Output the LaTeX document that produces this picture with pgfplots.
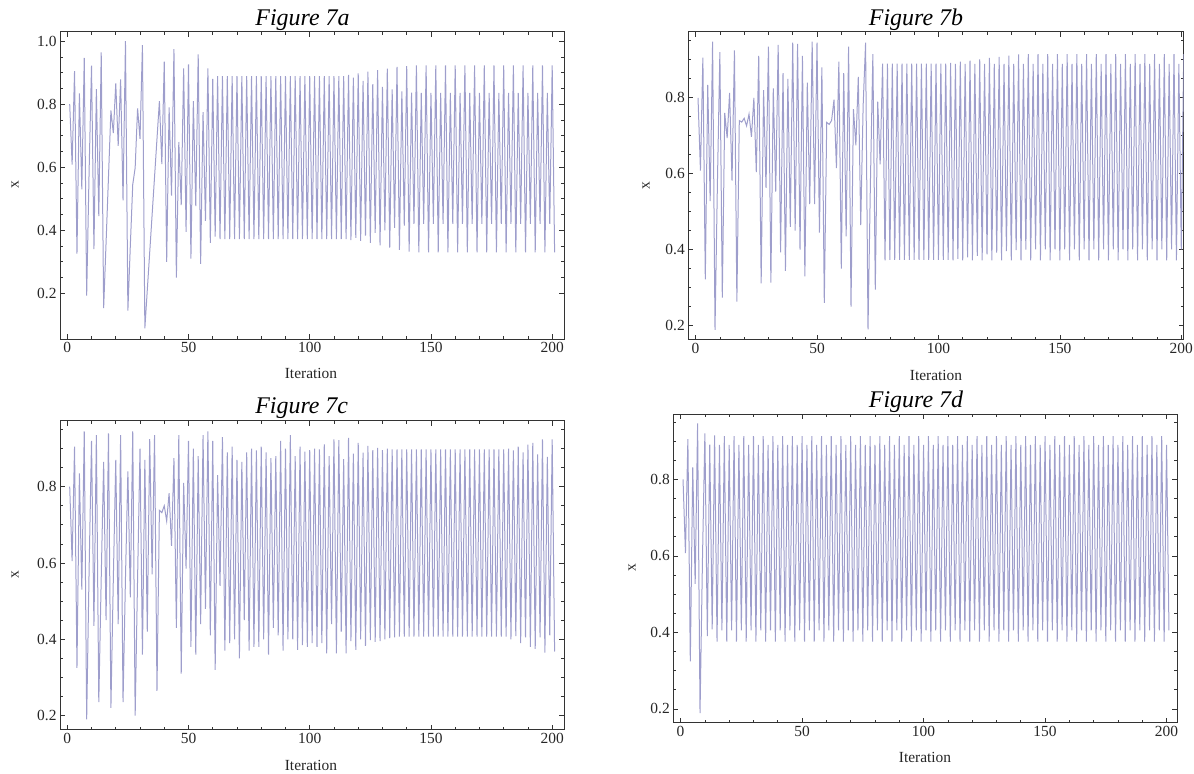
\documentclass[border=0pt]{standalone}
\usepackage{fontspec}
\setmainfont{Liberation Serif}
\usepackage{pgfplots}
\usepackage{pgfplotstable}
\pgfplotsset{compat=1.18}
\definecolor{series}{rgb}{0.24,0.24,0.6}
\definecolor{frame}{gray}{0.2}

% Figure 7a
\pgfplotstableread[row sep=\\]{
i v\\
1 0.800\\ 2 0.608\\ 3 0.905\\ 4 0.326\\ 5 0.834\\ 6 0.530\\ 7 0.947\\ 8 0.193\\ 9 0.586\\ 10 0.922\\
11 0.340\\ 12 0.848\\ 13 0.445\\ 14 0.964\\ 15 0.153\\ 16 0.360\\ 17 0.570\\ 18 0.780\\ 19 0.708\\ 20 0.866\\
21 0.668\\ 22 0.879\\ 23 0.495\\ 24 1.000\\ 25 0.145\\ 26 0.350\\ 27 0.545\\ 28 0.598\\ 29 0.787\\ 30 0.690\\
31 0.987\\ 32 0.089\\ 33 0.210\\ 34 0.330\\ 35 0.450\\ 36 0.570\\ 37 0.690\\ 38 0.810\\ 39 0.610\\ 40 0.935\\
41 0.300\\ 42 0.790\\ 43 0.510\\ 44 0.975\\ 45 0.250\\ 46 0.680\\ 47 0.480\\ 48 0.914\\ 49 0.395\\ 50 0.926\\
51 0.310\\ 52 0.810\\ 53 0.477\\ 54 0.958\\ 55 0.293\\ 56 0.775\\ 57 0.430\\ 58 0.914\\ 59 0.360\\ 60 0.880\\
61 0.380\\ 62 0.889\\ 63 0.372\\ 64 0.889\\ 65 0.372\\ 66 0.889\\ 67 0.372\\ 68 0.889\\ 69 0.372\\ 70 0.889\\
71 0.372\\ 72 0.889\\ 73 0.372\\ 74 0.889\\ 75 0.372\\ 76 0.889\\ 77 0.372\\ 78 0.889\\ 79 0.372\\ 80 0.889\\
81 0.372\\ 82 0.889\\ 83 0.372\\ 84 0.889\\ 85 0.372\\ 86 0.889\\ 87 0.372\\ 88 0.889\\ 89 0.372\\ 90 0.889\\
91 0.372\\ 92 0.889\\ 93 0.372\\ 94 0.889\\ 95 0.372\\ 96 0.889\\ 97 0.372\\ 98 0.889\\ 99 0.372\\ 100 0.889\\
101 0.372\\ 102 0.889\\ 103 0.372\\ 104 0.889\\ 105 0.372\\ 106 0.889\\ 107 0.372\\ 108 0.889\\ 109 0.372\\ 110 0.889\\
111 0.372\\ 112 0.889\\ 113 0.372\\ 114 0.889\\ 115 0.372\\ 116 0.893\\ 117 0.369\\ 118 0.884\\ 119 0.376\\ 120 0.898\\
121 0.366\\ 122 0.874\\ 123 0.383\\ 124 0.903\\ 125 0.360\\ 126 0.864\\ 127 0.392\\ 128 0.908\\ 129 0.352\\ 130 0.855\\
131 0.400\\ 132 0.913\\ 133 0.345\\ 134 0.847\\ 135 0.408\\ 136 0.918\\ 137 0.338\\ 138 0.841\\ 139 0.415\\ 140 0.921\\
141 0.332\\ 142 0.837\\ 143 0.420\\ 144 0.923\\ 145 0.330\\ 146 0.836\\ 147 0.420\\ 148 0.923\\ 149 0.330\\ 150 0.836\\
151 0.420\\ 152 0.923\\ 153 0.330\\ 154 0.836\\ 155 0.420\\ 156 0.923\\ 157 0.330\\ 158 0.836\\ 159 0.420\\ 160 0.923\\
161 0.330\\ 162 0.836\\ 163 0.420\\ 164 0.923\\ 165 0.330\\ 166 0.836\\ 167 0.420\\ 168 0.923\\ 169 0.330\\ 170 0.836\\
171 0.420\\ 172 0.923\\ 173 0.330\\ 174 0.836\\ 175 0.420\\ 176 0.923\\ 177 0.330\\ 178 0.836\\ 179 0.420\\ 180 0.923\\
181 0.330\\ 182 0.836\\ 183 0.420\\ 184 0.923\\ 185 0.330\\ 186 0.836\\ 187 0.420\\ 188 0.923\\ 189 0.330\\ 190 0.836\\
191 0.420\\ 192 0.923\\ 193 0.330\\ 194 0.836\\ 195 0.420\\ 196 0.923\\ 197 0.330\\ 198 0.836\\ 199 0.420\\ 200 0.923\\
201 0.330\\
}\dataA

% Figure 7b
\pgfplotstableread[row sep=\\]{
i v\\
1 0.800\\ 2 0.608\\ 3 0.906\\ 4 0.322\\ 5 0.834\\ 6 0.528\\ 7 0.948\\ 8 0.189\\ 9 0.580\\ 10 0.920\\
11 0.274\\ 12 0.760\\ 13 0.694\\ 14 0.813\\ 15 0.582\\ 16 0.925\\ 17 0.263\\ 18 0.740\\ 19 0.736\\ 20 0.746\\
21 0.726\\ 22 0.757\\ 23 0.697\\ 24 0.800\\ 25 0.604\\ 26 0.910\\ 27 0.311\\ 28 0.820\\ 29 0.563\\ 30 0.935\\
31 0.313\\ 32 0.825\\ 33 0.553\\ 34 0.939\\ 35 0.393\\ 36 0.865\\ 37 0.344\\ 38 0.850\\ 39 0.460\\ 40 0.945\\
41 0.450\\ 42 0.942\\ 43 0.400\\ 44 0.910\\ 45 0.330\\ 46 0.840\\ 47 0.520\\ 48 0.948\\ 49 0.520\\ 50 0.945\\
51 0.445\\ 52 0.880\\ 53 0.260\\ 54 0.735\\ 55 0.730\\ 56 0.740\\ 57 0.795\\ 58 0.615\\ 59 0.895\\ 60 0.350\\
61 0.865\\ 62 0.435\\ 63 0.935\\ 64 0.250\\ 65 0.770\\ 66 0.675\\ 67 0.855\\ 68 0.465\\ 69 0.780\\ 70 0.945\\
71 0.190\\ 72 0.580\\ 73 0.915\\ 74 0.295\\ 75 0.790\\ 76 0.625\\ 77 0.890\\ 78 0.372\\ 79 0.890\\ 80 0.373\\
81 0.890\\ 82 0.373\\ 83 0.890\\ 84 0.373\\ 85 0.890\\ 86 0.373\\ 87 0.890\\ 88 0.373\\ 89 0.890\\ 90 0.373\\
91 0.890\\ 92 0.373\\ 93 0.890\\ 94 0.373\\ 95 0.890\\ 96 0.373\\ 97 0.890\\ 98 0.373\\ 99 0.890\\ 100 0.373\\
101 0.890\\ 102 0.373\\ 103 0.890\\ 104 0.373\\ 105 0.892\\ 106 0.372\\ 107 0.889\\ 108 0.376\\ 109 0.895\\ 110 0.372\\
111 0.889\\ 112 0.380\\ 113 0.898\\ 114 0.372\\ 115 0.889\\ 116 0.384\\ 117 0.901\\ 118 0.372\\ 119 0.889\\ 120 0.388\\
121 0.905\\ 122 0.372\\ 123 0.889\\ 124 0.392\\ 125 0.908\\ 126 0.372\\ 127 0.889\\ 128 0.396\\ 129 0.911\\ 130 0.372\\
131 0.889\\ 132 0.399\\ 133 0.914\\ 134 0.372\\ 135 0.889\\ 136 0.400\\ 137 0.915\\ 138 0.372\\ 139 0.889\\ 140 0.401\\
141 0.915\\ 142 0.372\\ 143 0.889\\ 144 0.401\\ 145 0.915\\ 146 0.372\\ 147 0.889\\ 148 0.401\\ 149 0.915\\ 150 0.372\\
151 0.889\\ 152 0.401\\ 153 0.915\\ 154 0.372\\ 155 0.889\\ 156 0.401\\ 157 0.915\\ 158 0.372\\ 159 0.889\\ 160 0.401\\
161 0.915\\ 162 0.372\\ 163 0.889\\ 164 0.401\\ 165 0.915\\ 166 0.372\\ 167 0.889\\ 168 0.401\\ 169 0.915\\ 170 0.372\\
171 0.889\\ 172 0.401\\ 173 0.915\\ 174 0.372\\ 175 0.889\\ 176 0.401\\ 177 0.915\\ 178 0.372\\ 179 0.889\\ 180 0.401\\
181 0.915\\ 182 0.372\\ 183 0.889\\ 184 0.401\\ 185 0.915\\ 186 0.372\\ 187 0.889\\ 188 0.401\\ 189 0.915\\ 190 0.372\\
191 0.889\\ 192 0.401\\ 193 0.915\\ 194 0.372\\ 195 0.889\\ 196 0.401\\ 197 0.915\\ 198 0.372\\ 199 0.889\\ 200 0.401\\
201 0.915\\
}\dataB

% Figure 7c
\pgfplotstableread[row sep=\\]{
i v\\
1 0.800\\ 2 0.605\\ 3 0.905\\ 4 0.325\\ 5 0.835\\ 6 0.530\\ 7 0.945\\ 8 0.190\\ 9 0.580\\ 10 0.920\\
11 0.435\\ 12 0.935\\ 13 0.235\\ 14 0.560\\ 15 0.865\\ 16 0.450\\ 17 0.940\\ 18 0.220\\ 19 0.560\\ 20 0.870\\
21 0.440\\ 22 0.935\\ 23 0.235\\ 24 0.560\\ 25 0.840\\ 26 0.510\\ 27 0.945\\ 28 0.200\\ 29 0.560\\ 30 0.900\\
31 0.360\\ 32 0.870\\ 33 0.420\\ 34 0.925\\ 35 0.570\\ 36 0.935\\ 37 0.265\\ 38 0.738\\ 39 0.732\\ 40 0.750\\
41 0.710\\ 42 0.783\\ 43 0.645\\ 44 0.875\\ 45 0.430\\ 46 0.935\\ 47 0.310\\ 48 0.810\\ 49 0.585\\ 50 0.920\\
51 0.380\\ 52 0.900\\ 53 0.360\\ 54 0.880\\ 55 0.440\\ 56 0.935\\ 57 0.480\\ 58 0.945\\ 59 0.410\\ 60 0.920\\
61 0.320\\ 62 0.830\\ 63 0.540\\ 64 0.930\\ 65 0.370\\ 66 0.890\\ 67 0.390\\ 68 0.905\\ 69 0.400\\ 70 0.870\\
71 0.350\\ 72 0.865\\ 73 0.450\\ 74 0.890\\ 75 0.370\\ 76 0.900\\ 77 0.380\\ 78 0.895\\ 79 0.380\\ 80 0.905\\
81 0.400\\ 82 0.890\\ 83 0.360\\ 84 0.875\\ 85 0.430\\ 86 0.880\\ 87 0.410\\ 88 0.920\\ 89 0.370\\ 90 0.900\\
91 0.400\\ 92 0.935\\ 93 0.400\\ 94 0.880\\ 95 0.372\\ 96 0.905\\ 97 0.385\\ 98 0.892\\ 99 0.380\\ 100 0.896\\
101 0.390\\ 102 0.900\\ 103 0.380\\ 104 0.898\\ 105 0.390\\ 106 0.911\\ 107 0.363\\ 108 0.880\\ 109 0.440\\ 110 0.924\\
111 0.363\\ 112 0.922\\ 113 0.420\\ 114 0.872\\ 115 0.363\\ 116 0.928\\ 117 0.395\\ 118 0.887\\ 119 0.372\\ 120 0.915\\
121 0.400\\ 122 0.889\\ 123 0.383\\ 124 0.907\\ 125 0.398\\ 126 0.896\\ 127 0.393\\ 128 0.902\\ 129 0.395\\ 130 0.896\\
131 0.400\\ 132 0.900\\ 133 0.403\\ 134 0.898\\ 135 0.405\\ 136 0.898\\ 137 0.407\\ 138 0.898\\ 139 0.407\\ 140 0.898\\
141 0.407\\ 142 0.898\\ 143 0.407\\ 144 0.898\\ 145 0.407\\ 146 0.898\\ 147 0.407\\ 148 0.898\\ 149 0.407\\ 150 0.898\\
151 0.407\\ 152 0.898\\ 153 0.407\\ 154 0.898\\ 155 0.407\\ 156 0.898\\ 157 0.407\\ 158 0.898\\ 159 0.407\\ 160 0.898\\
161 0.407\\ 162 0.898\\ 163 0.407\\ 164 0.898\\ 165 0.407\\ 166 0.898\\ 167 0.407\\ 168 0.898\\ 169 0.407\\ 170 0.898\\
171 0.407\\ 172 0.898\\ 173 0.407\\ 174 0.898\\ 175 0.407\\ 176 0.898\\ 177 0.407\\ 178 0.898\\ 179 0.407\\ 180 0.898\\
181 0.407\\ 182 0.900\\ 183 0.400\\ 184 0.895\\ 185 0.408\\ 186 0.905\\ 187 0.390\\ 188 0.890\\ 189 0.405\\ 190 0.910\\
191 0.380\\ 192 0.915\\ 193 0.375\\ 194 0.885\\ 195 0.405\\ 196 0.924\\ 197 0.365\\ 198 0.878\\ 199 0.410\\ 200 0.924\\
201 0.368\\
}\dataC

% Figure 7d
\pgfplotstableread[row sep=\\]{
i v\\
1 0.800\\ 2 0.607\\ 3 0.905\\ 4 0.324\\ 5 0.831\\ 6 0.527\\ 7 0.946\\ 8 0.189\\ 9 0.590\\ 10 0.920\\
11 0.390\\ 12 0.891\\ 13 0.408\\ 14 0.915\\ 15 0.376\\ 16 0.890\\ 17 0.405\\ 18 0.913\\ 19 0.376\\ 20 0.890\\
21 0.405\\ 22 0.913\\ 23 0.376\\ 24 0.890\\ 25 0.405\\ 26 0.913\\ 27 0.376\\ 28 0.890\\ 29 0.405\\ 30 0.913\\
31 0.376\\ 32 0.890\\ 33 0.405\\ 34 0.913\\ 35 0.376\\ 36 0.890\\ 37 0.405\\ 38 0.913\\ 39 0.376\\ 40 0.890\\
41 0.405\\ 42 0.913\\ 43 0.376\\ 44 0.890\\ 45 0.405\\ 46 0.913\\ 47 0.376\\ 48 0.890\\ 49 0.405\\ 50 0.913\\
51 0.376\\ 52 0.890\\ 53 0.405\\ 54 0.913\\ 55 0.376\\ 56 0.890\\ 57 0.405\\ 58 0.913\\ 59 0.376\\ 60 0.890\\
61 0.405\\ 62 0.913\\ 63 0.376\\ 64 0.890\\ 65 0.405\\ 66 0.913\\ 67 0.376\\ 68 0.890\\ 69 0.405\\ 70 0.913\\
71 0.376\\ 72 0.890\\ 73 0.405\\ 74 0.913\\ 75 0.376\\ 76 0.890\\ 77 0.405\\ 78 0.913\\ 79 0.376\\ 80 0.890\\
81 0.405\\ 82 0.913\\ 83 0.376\\ 84 0.890\\ 85 0.405\\ 86 0.913\\ 87 0.376\\ 88 0.890\\ 89 0.405\\ 90 0.913\\
91 0.376\\ 92 0.890\\ 93 0.405\\ 94 0.913\\ 95 0.376\\ 96 0.890\\ 97 0.405\\ 98 0.913\\ 99 0.376\\ 100 0.890\\
101 0.405\\ 102 0.913\\ 103 0.376\\ 104 0.890\\ 105 0.405\\ 106 0.913\\ 107 0.376\\ 108 0.890\\ 109 0.405\\ 110 0.913\\
111 0.376\\ 112 0.890\\ 113 0.405\\ 114 0.913\\ 115 0.376\\ 116 0.890\\ 117 0.405\\ 118 0.913\\ 119 0.376\\ 120 0.890\\
121 0.405\\ 122 0.913\\ 123 0.376\\ 124 0.890\\ 125 0.405\\ 126 0.913\\ 127 0.376\\ 128 0.890\\ 129 0.405\\ 130 0.913\\
131 0.376\\ 132 0.890\\ 133 0.405\\ 134 0.913\\ 135 0.376\\ 136 0.890\\ 137 0.405\\ 138 0.913\\ 139 0.376\\ 140 0.890\\
141 0.405\\ 142 0.913\\ 143 0.376\\ 144 0.890\\ 145 0.405\\ 146 0.913\\ 147 0.376\\ 148 0.890\\ 149 0.405\\ 150 0.913\\
151 0.376\\ 152 0.890\\ 153 0.405\\ 154 0.913\\ 155 0.376\\ 156 0.890\\ 157 0.405\\ 158 0.913\\ 159 0.376\\ 160 0.890\\
161 0.405\\ 162 0.913\\ 163 0.376\\ 164 0.890\\ 165 0.405\\ 166 0.913\\ 167 0.376\\ 168 0.890\\ 169 0.405\\ 170 0.913\\
171 0.376\\ 172 0.890\\ 173 0.405\\ 174 0.913\\ 175 0.376\\ 176 0.890\\ 177 0.405\\ 178 0.913\\ 179 0.376\\ 180 0.890\\
181 0.405\\ 182 0.913\\ 183 0.376\\ 184 0.890\\ 185 0.405\\ 186 0.913\\ 187 0.376\\ 188 0.890\\ 189 0.405\\ 190 0.913\\
191 0.376\\ 192 0.890\\ 193 0.405\\ 194 0.913\\ 195 0.376\\ 196 0.890\\ 197 0.405\\ 198 0.913\\ 199 0.376\\ 200 0.890\\
201 0.405\\
}\dataD

\pgfplotsset{
  iterplot/.style={
    scale only axis,
    anchor=north west,
    tick align=inside,
    xtick={0,50,100,150,200},
    ytick={0.2,0.4,0.6,0.8,1.0},
    minor x tick num=4,
    minor y tick num=3,
    major tick length=5bp,
    minor tick length=3bp,
    axis line style={draw=frame,line width=0.9bp},
    every tick/.style={draw=frame,line width=0.7bp},
    tick label style={font=\fontsize{15.5}{16}\selectfont,text=black!85},
    /pgf/number format/assume math mode=true,
    yticklabel style={/pgf/number format/fixed,/pgf/number format/fixed zerofill,/pgf/number format/precision=1},
    xticklabel style={/pgf/number format/fixed,/pgf/number format/precision=0},
  },
  trace/.style={draw=series!50,line width=1.0bp,no marks,line join=miter},
}

\tikzset{
  ttl/.style={font=\fontsize{24}{24}\selectfont\itshape,anchor=base,inner sep=0pt},
  lbl/.style={font=\fontsize{15.5}{16}\selectfont,text=black!85,inner sep=0pt},
}

\begin{document}
\begin{tikzpicture}
\useasboundingbox (0,0) rectangle (1194bp,-774bp);

\begin{axis}[iterplot,at={(60bp,-31.7bp)},width=504.3bp,height=307.3bp,
  xmin=-3,xmax=205,ymin=0.055,ymax=1.03]
\addplot[trace] table[x=i,y=v] {\dataA};
\end{axis}

\begin{axis}[iterplot,at={(688.3bp,-31.7bp)},width=495.4bp,height=308bp,
  xmin=-3,xmax=201,ymin=0.163,ymax=0.974]
\addplot[trace] table[x=i,y=v] {\dataB};
\end{axis}

\begin{axis}[iterplot,at={(60bp,-420.7bp)},width=504.3bp,height=309bp,
  xmin=-3,xmax=205,ymin=0.163,ymax=0.973]
\addplot[trace] table[x=i,y=v] {\dataC};
\end{axis}

\begin{axis}[iterplot,at={(673.3bp,-414.3bp)},width=503.7bp,height=308.4bp,
  xmin=-3,xmax=204.3,ymin=0.164,ymax=0.97]
\addplot[trace] table[x=i,y=v] {\dataD};
\end{axis}

\node[ttl] at (302.5bp,-25bp) {Figure 7a};
\node[ttl] at (916bp,-25bp) {Figure 7b};
\node[ttl] at (301.7bp,-413bp) {Figure 7c};
\node[ttl] at (916bp,-407bp) {Figure 7d};

\node[lbl,anchor=base] at (311bp,-378bp) {Iteration};
\node[lbl,anchor=base] at (936bp,-380bp) {Iteration};
\node[lbl,anchor=base] at (311bp,-770bp) {Iteration};
\node[lbl,anchor=base] at (925bp,-762bp) {Iteration};

\node[lbl,rotate=90] at (15bp,-185bp) {x};
\node[lbl,rotate=90] at (646bp,-186bp) {x};
\node[lbl,rotate=90] at (15bp,-575bp) {x};
\node[lbl,rotate=90] at (632bp,-568bp) {x};
\end{tikzpicture}
\end{document}
